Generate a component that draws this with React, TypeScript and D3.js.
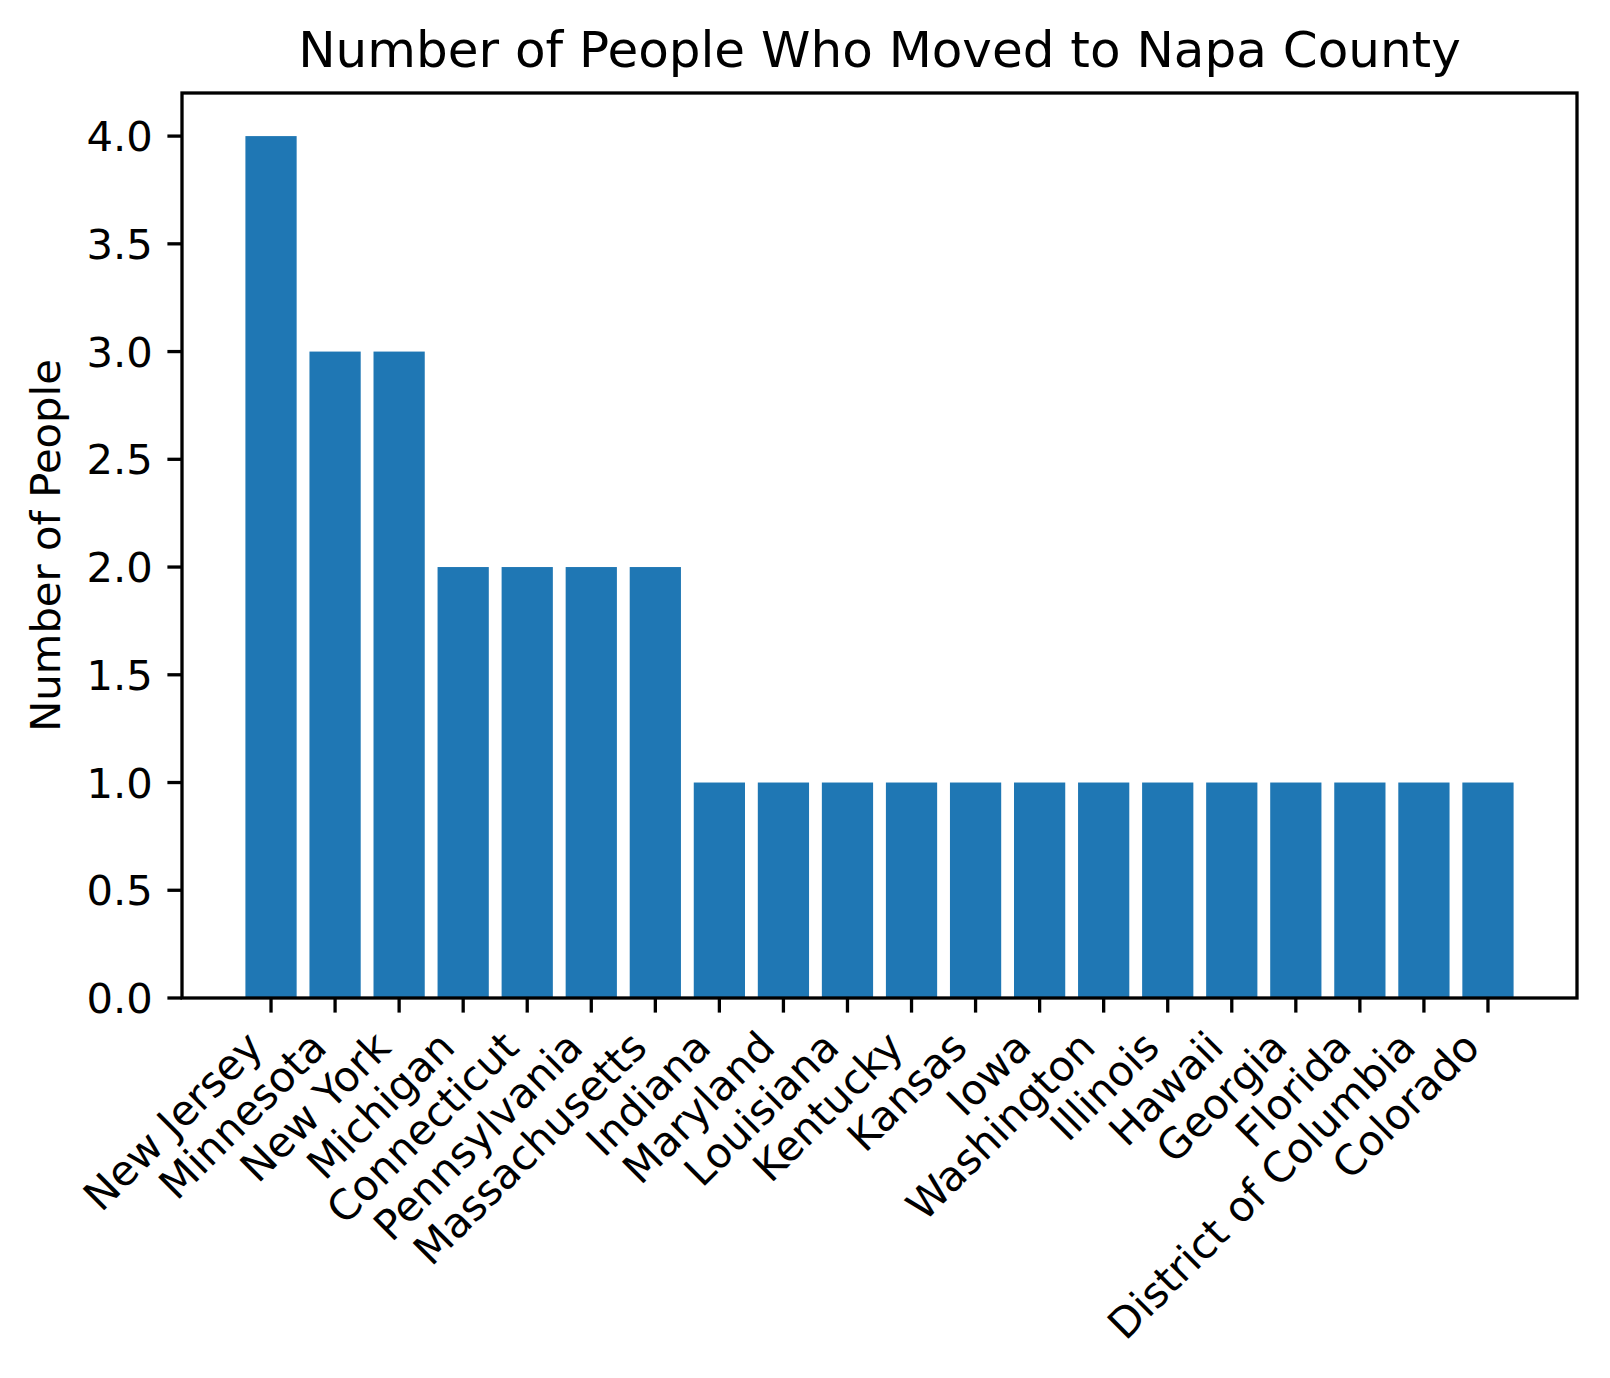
import React from 'react';
import * as d3 from 'd3';

const states = [
  'New Jersey', 'Minnesota', 'New York', 'Michigan', 'Connecticut', 'Pennsylvania',
  'Massachusetts', 'Indiana', 'Maryland', 'Louisiana', 'Kentucky', 'Kansas', 'Iowa',
  'Washington', 'Illinois', 'Hawaii', 'Georgia', 'Florida', 'District of Columbia', 'Colorado',
];
const people = [4, 3, 3, 2, 2, 2, 2, 1, 1, 1, 1, 1, 1, 1, 1, 1, 1, 1, 1, 1];
const yTicks = [0, 0.5, 1.0, 1.5, 2.0, 2.5, 3.0, 3.5, 4.0];

const W = 1610;
const H = 1378;
const left = 182, right = 1577, top = 93, bottom = 998;
const font = '"DejaVu Sans", sans-serif';
const tickFs = 41.7;
const tickLen = 14.6;
const pad = 14.6;
const barW = 0.8;

export default function App() {
  const n = states.length;
  const lo = -barW / 2, hi = n - 1 + barW / 2;
  const m = (hi - lo) * 0.05;
  const x = d3.scaleLinear().domain([lo - m, hi + m]).range([left, right]);
  const y = d3.scaleLinear().domain([0, d3.max(people)! * 1.05]).range([bottom, top]);

  const asc = 0.76 * tickFs;
  const desc = 0.21 * tickFs;
  const labTop = bottom + tickLen + pad;

  return (
    <svg width={W} height={H} style={{ position: 'absolute', left: 0, top: 0, background: '#fff' }}
      fontFamily={font}>
      {people.map((v, i) => (
        <rect key={i} x={x(i - barW / 2)} y={y(v)} width={x(i + barW / 2) - x(i - barW / 2)}
          height={y(0) - y(v)} fill="#1f77b4" />
      ))}
      <rect x={left} y={top} width={right - left} height={bottom - top} fill="none"
        stroke="#000" strokeWidth={3.3} />
      {yTicks.map(t => (
        <g key={t}>
          <line x1={left - tickLen} x2={left} y1={y(t)} y2={y(t)} stroke="#000" strokeWidth={3.3} />
          <text x={left - tickLen - pad} y={y(t)} dy="0.36em" textAnchor="end" fontSize={tickFs}>
            {t.toFixed(1)}
          </text>
        </g>
      ))}
      {states.map((s, i) => {
        const ax = x(i) - desc / Math.SQRT2;
        const ay = labTop + asc / Math.SQRT2;
        return (
          <g key={s}>
            <line x1={x(i)} x2={x(i)} y1={bottom} y2={bottom + tickLen} stroke="#000" strokeWidth={3.3} />
            <text x={ax} y={ay} textAnchor="end" fontSize={tickFs}
              transform={`rotate(-45 ${ax} ${ay})`}>{s}</text>
          </g>
        );
      })}
      <text x={(left + right) / 2} y={67} textAnchor="middle" fontSize={50}>
        Number of People Who Moved to Napa County
      </text>
      <text transform={`translate(60 ${(top + bottom) / 2}) rotate(-90)`} textAnchor="middle"
        fontSize={tickFs}>Number of People</text>
    </svg>
  );
}
